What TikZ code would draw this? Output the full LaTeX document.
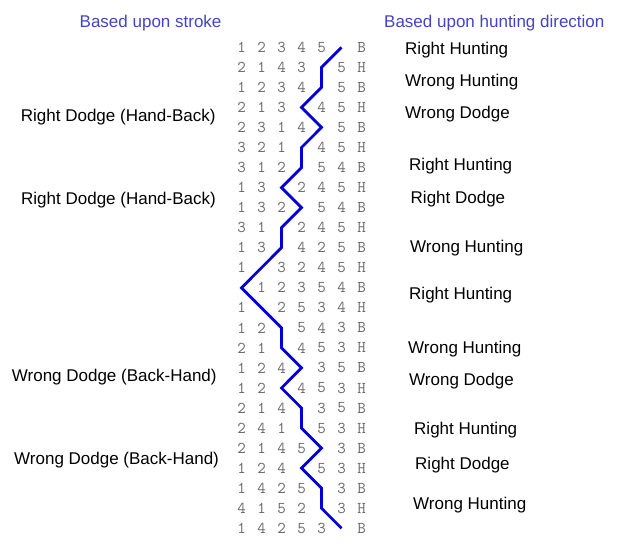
\documentclass[tikz,border=0pt]{standalone}
\usepackage{fontspec}
\setmainfont{Liberation Sans}
\usepackage{tikz}
\usetikzlibrary{positioning}
\usepackage{xcolor}
\definecolor{headblue}{RGB}{68,68,196}
\definecolor{cellgray}{RGB}{105,105,105}
\definecolor{walkblue}{RGB}{0,0,215}

\begin{document}
\begin{tikzpicture}[x=1pt,y=-1pt,
  heading/.style={anchor=base west,inner sep=0pt,text=headblue,font=\fontsize{17}{20}\selectfont},
  lab/.style={anchor=base west,inner sep=0pt,font=\fontsize{17}{20}\selectfont},
  cell/.style={inner sep=0pt,text=cellgray,font=\ttfamily\fontsize{16.5}{18}\selectfont},
  walk/.style={draw=walkblue,line width=2.8pt}]
  \useasboundingbox (0,0) rectangle (618,544);
  \node[heading] (hstroke) at (79.5,27.7) {Based upon stroke};
  \node[heading] (hhunt) at (384,27.7) {Based upon hunting direction};
  % rows of the method: row / empty place / cells
  \foreach \r/\gap/\cells in {
    1/6/{1,2,3,4,5,-,B}, 2/5/{2,1,4,3,-,5,H}, 3/5/{1,2,3,4,-,5,B},
    4/4/{2,1,3,-,4,5,H}, 5/5/{2,3,1,4,-,5,B}, 6/4/{3,2,1,-,4,5,H},
    7/4/{3,1,2,-,5,4,B}, 8/3/{1,3,-,2,4,5,H}, 9/4/{1,3,2,-,5,4,B},
    10/3/{3,1,-,2,4,5,H}, 11/3/{1,3,-,4,2,5,B}, 12/2/{1,-,3,2,4,5,H},
    13/1/{-,1,2,3,5,4,B}, 14/2/{1,-,2,5,3,4,H}, 15/3/{1,2,-,5,4,3,B},
    16/3/{2,1,-,4,5,3,H}, 17/4/{1,2,4,-,3,5,B}, 18/3/{1,2,-,4,5,3,H},
    19/4/{2,1,4,-,3,5,B}, 20/4/{2,4,1,-,5,3,H}, 21/5/{2,1,4,5,-,3,B},
    22/4/{1,2,4,-,5,3,H}, 23/5/{1,4,2,5,-,3,B}, 24/5/{4,1,5,2,-,3,H},
    25/6/{1,4,2,5,3,-,B}}{
    \foreach \d [count=\k] in \cells {
      \ifnum\k=\gap
        \coordinate (p-\r) at ({241.5+20*(\k-1)},{47.3+20.04*(\r-1)});
      \else
        \node[cell] (n-\r-\k) at ({241.5+20*(\k-1)},{47.3+20.04*(\r-1)}) {\d};
      \fi
    }
  }
  \draw[walk] (p-1) \foreach \r in {2,...,25}{ -- (p-\r)};
  % stroke labels
  \node[lab] (rd1) at (20.7,121) {Right Dodge (Hand-Back)};
  \node[lab] (rd2) at (21,204) {Right Dodge (Hand-Back)};
  \node[lab] (wd1) at (11.7,381) {Wrong Dodge (Back-Hand)};
  \node[lab] (wd2) at (14,464) {Wrong Dodge (Back-Hand)};
  % hunting labels
  \node[lab] (h1) at (405,54) {Right Hunting};
  \node[lab] (h2) at (405,86) {Wrong Hunting};
  \node[lab] (h3) at (405,118) {Wrong Dodge};
  \node[lab] (h4) at (409,170) {Right Hunting};
  \node[lab] (h5) at (410.5,203) {Right Dodge};
  \node[lab] (h6) at (410,252) {Wrong Hunting};
  \node[lab] (h7) at (409,299) {Right Hunting};
  \node[lab] (h8) at (408,353) {Wrong Hunting};
  \node[lab] (h9) at (409,385) {Wrong Dodge};
  \node[lab] (h10) at (414,434) {Right Hunting};
  \node[lab] (h11) at (415,469) {Right Dodge};
  \node[lab] (h12) at (413,509) {Wrong Hunting};
\end{tikzpicture}
\end{document}
